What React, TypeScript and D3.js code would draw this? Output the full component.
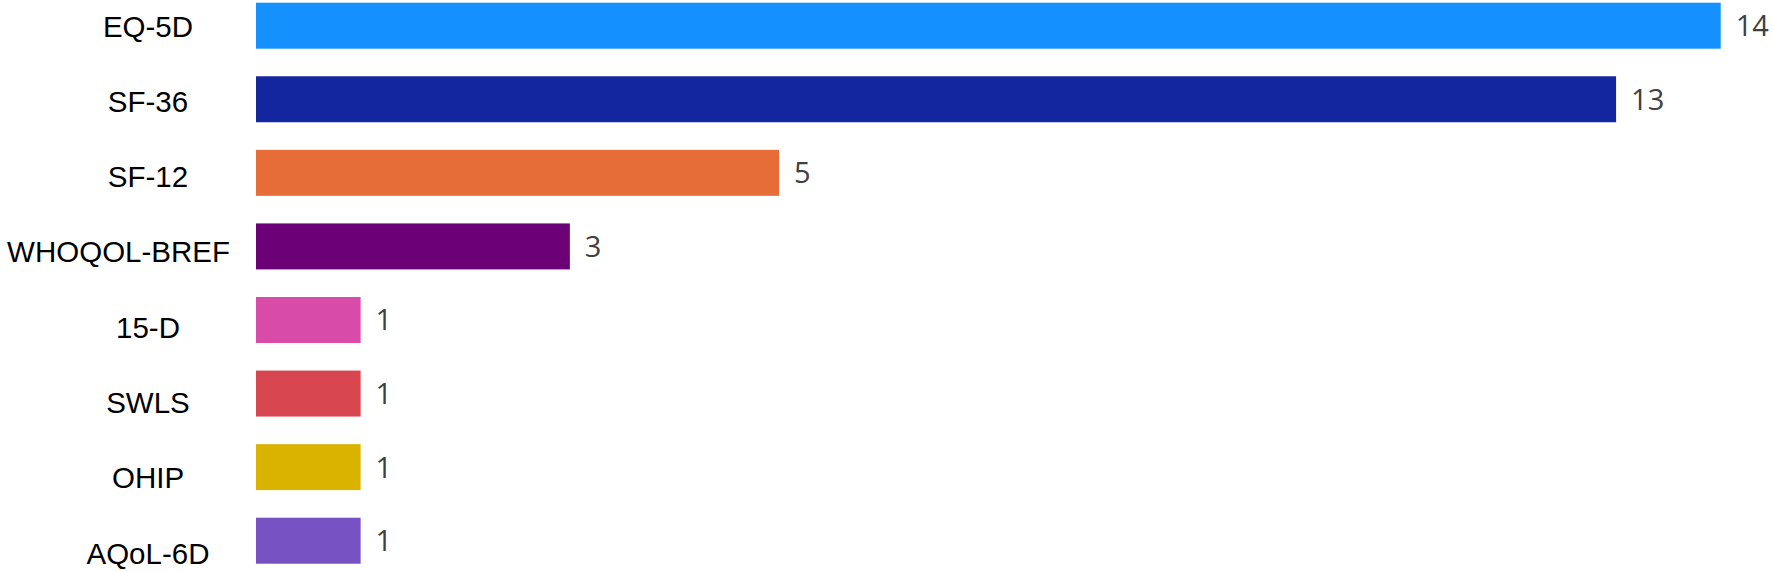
import React from "react";
import * as d3 from "d3";

const categories = ["EQ-5D", "SF-36", "SF-12", "WHOQOL-BREF", "15-D", "SWLS", "OHIP", "AQoL-6D"];
const values = [14, 13, 5, 3, 1, 1, 1, 1];
const colors = ["#1491FE", "#13259F", "#E66D37", "#6C0077", "#D94BA8", "#D7464F", "#DAB300", "#7551C1"];

const W = 1773;
const H = 571;

export default function App() {
  const x = d3.scaleLinear().domain([0, 14]).range([256, 1720.7]);
  const y = d3.scaleBand<string>().domain(categories).range([2.7, 563.7]).paddingInner(0.375).paddingOuter(0);
  const yLabel = d3.scalePoint<string>().domain(categories).range([26, 553]);
  const labelFont = "'Liberation Sans', Arial, sans-serif";
  const labelSize = 29.5;
  const measure = (() => {
    const cv = document.createElement("canvas");
    const ctx = cv.getContext("2d")!;
    ctx.font = `${labelSize}px ${labelFont}`;
    return (s: string) => ctx.measureText(s).width;
  })();

  return (
    <svg width={W} height={H} style={{ position: "absolute", left: 0, top: 0, display: "block", background: "#fff" }}>
      <rect x={0} y={0} width={W} height={H} fill="#fff" />
      {categories.map((c, i) => {
        const w = measure(c);
        const cx = Math.min(148, 230 - w / 2);
        return (
          <g key={c}>
            <rect x={x(0)} y={y(c)!} width={x(values[i]) - x(0)} height={y.bandwidth()} fill={colors[i]} />
            <text
              x={x(values[i]) + 15}
              y={y(c)! + y.bandwidth() / 2}
              dy="0.36em"
              fontFamily="'Open Sans', sans-serif"
              fontSize={29}
              fill="#404040"
            >
              {values[i]}
            </text>
            <text
              x={cx}
              y={yLabel(c)!}
              dy="0.36em"
              textAnchor="middle"
              fontFamily={labelFont}
              fontSize={labelSize}
              fill="#000"
            >
              {c}
            </text>
          </g>
        );
      })}
    </svg>
  );
}
